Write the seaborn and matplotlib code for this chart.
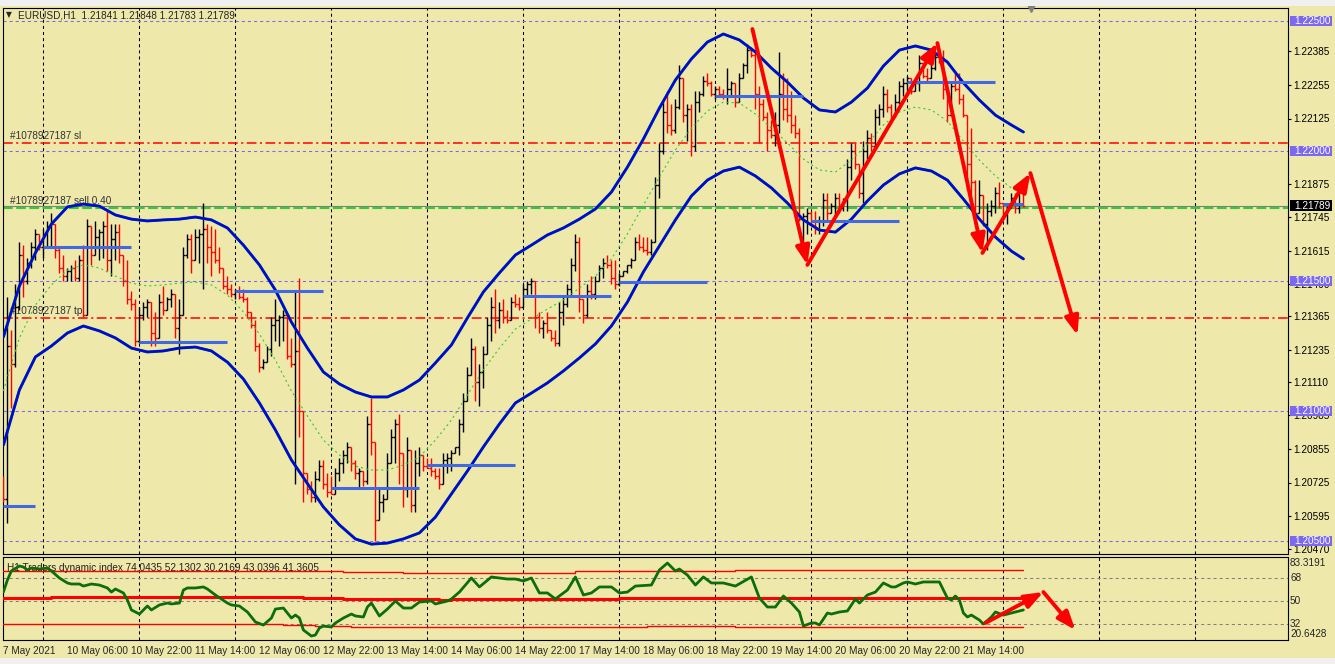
import numpy as np
import pandas as pd
import matplotlib
matplotlib.use("Agg")
import matplotlib.pyplot as plt
from matplotlib.patches import Rectangle
import seaborn as sns

sns.set_style("white")
plt.rcParams["font.family"] = ["Liberation Sans", "DejaVu Sans"]
plt.rcParams["lines.scale_dashes"] = False

# ---- EURUSD H1 bars (high / low / close), oldest first ----
first_open = 1.2074
bar_high = [
    1.2075, 1.2144, 1.2131, 1.2149, 1.2165, 1.2164, 1.2159, 1.2165, 1.2170, 1.2168,
    1.2170, 1.2173, 1.2176, 1.2172, 1.2163, 1.2160, 1.2155, 1.2156, 1.2158, 1.2160,
    1.2164, 1.2174, 1.2171, 1.2173, 1.2170, 1.2173, 1.2177, 1.2172, 1.2172, 1.2172,
    1.2160, 1.2158, 1.2146, 1.2143, 1.2140, 1.2142, 1.2143, 1.2142, 1.2138, 1.2145,
    1.2148, 1.2144, 1.2147, 1.2145, 1.2143, 1.2163, 1.2168, 1.2168, 1.2170, 1.2170,
    1.2180, 1.2172, 1.2171, 1.2170, 1.2163, 1.2155, 1.2152, 1.2149, 1.2147, 1.2148,
    1.2147, 1.2144, 1.2138, 1.2135, 1.2126, 1.2120, 1.2125, 1.2136, 1.2143, 1.2137,
    1.2139, 1.2137, 1.2128, 1.2146, 1.2151, 1.2100, 1.2076, 1.2073, 1.2077, 1.2081,
    1.2081, 1.2076, 1.2075, 1.2078, 1.2082, 1.2085, 1.2088, 1.2086, 1.2081, 1.2078,
    1.2077, 1.2098, 1.2105, 1.2088, 1.2070, 1.2068, 1.2084, 1.2093, 1.2097, 1.2099,
    1.2084, 1.2090, 1.2085, 1.2085, 1.2086, 1.2083, 1.2082, 1.2082, 1.2078, 1.2078,
    1.2084, 1.2084, 1.2085, 1.2086, 1.2097, 1.2107, 1.2117, 1.2128, 1.2125, 1.2118,
    1.2125, 1.2136, 1.2144, 1.2147, 1.2142, 1.2143, 1.2139, 1.2144, 1.2145, 1.2144,
    1.2149, 1.2150, 1.2151, 1.2150, 1.2138, 1.2135, 1.2138, 1.2131, 1.2131, 1.2142,
    1.2144, 1.2149, 1.2159, 1.2168, 1.2167, 1.2143, 1.2149, 1.2152, 1.2152, 1.2156,
    1.2159, 1.2160, 1.2158, 1.2158, 1.2153, 1.2154, 1.2156, 1.2159, 1.2167, 1.2168,
    1.2167, 1.2167, 1.2166, 1.2190, 1.2203, 1.2219, 1.2223, 1.2218, 1.2220, 1.2233,
    1.2228, 1.2218, 1.2218, 1.2223, 1.2223, 1.2229, 1.2230, 1.2227, 1.2225, 1.2225,
    1.2224, 1.2232, 1.2227, 1.2226, 1.2230, 1.2234, 1.2241, 1.2240, 1.2239, 1.2225,
    1.2220, 1.2215, 1.2212, 1.2215, 1.2238, 1.2230, 1.2228, 1.2223, 1.2214, 1.2209,
    1.2176, 1.2178, 1.2177, 1.2177, 1.2175, 1.2184, 1.2184, 1.2180, 1.2184, 1.2184,
    1.2182, 1.2197, 1.2203, 1.2203, 1.2195, 1.2204, 1.2208, 1.2207, 1.2216, 1.2218,
    1.2225, 1.2224, 1.2218, 1.2222, 1.2227, 1.2228, 1.2229, 1.2228, 1.2227, 1.2237,
    1.2234, 1.2232, 1.2234, 1.2238, 1.2239, 1.2239, 1.2224, 1.2226, 1.2230, 1.2230,
    1.2222, 1.2214, 1.2209, 1.2189, 1.2189, 1.2183, 1.2180, 1.2181, 1.2186, 1.2188,
    1.2180, 1.2179, 1.2184, 1.2184, 1.2184, 1.21848,
]
bar_low = [
    1.2065, 1.2057, 1.2101, 1.2117, 1.2139, 1.2144, 1.2149, 1.2155, 1.2158, 1.2162,
    1.2159, 1.2163, 1.2163, 1.2159, 1.2153, 1.2150, 1.2150, 1.2150, 1.2150, 1.2150,
    1.2136, 1.2137, 1.2156, 1.2160, 1.2158, 1.2159, 1.2154, 1.2152, 1.2158, 1.2157,
    1.2148, 1.2141, 1.2139, 1.2125, 1.2126, 1.2135, 1.2136, 1.2125, 1.2125, 1.2128,
    1.2137, 1.2139, 1.2140, 1.2128, 1.2122, 1.2137, 1.2159, 1.2153, 1.2158, 1.2157,
    1.2147, 1.2157, 1.2152, 1.2157, 1.2153, 1.2147, 1.2145, 1.2144, 1.2143, 1.2143,
    1.2142, 1.2136, 1.2132, 1.2123, 1.2115, 1.2116, 1.2119, 1.2121, 1.2127, 1.2125,
    1.2127, 1.2120, 1.2117, 1.2072, 1.2090, 1.2065, 1.2068, 1.2065, 1.2065, 1.2073,
    1.2070, 1.2067, 1.2068, 1.2068, 1.2073, 1.2076, 1.2080, 1.2077, 1.2074, 1.2070,
    1.2071, 1.2072, 1.2083, 1.2050, 1.2058, 1.2061, 1.2066, 1.2080, 1.2080, 1.2072,
    1.2063, 1.2067, 1.2061, 1.2061, 1.2075, 1.2077, 1.2078, 1.2075, 1.2074, 1.2070,
    1.2072, 1.2076, 1.2077, 1.2084, 1.2083, 1.2092, 1.2104, 1.2114, 1.2104, 1.2102,
    1.2109, 1.2122, 1.2127, 1.2130, 1.2132, 1.2134, 1.2134, 1.2135, 1.2140, 1.2139,
    1.2140, 1.2144, 1.2145, 1.2132, 1.2130, 1.2128, 1.2130, 1.2127, 1.2125, 1.2125,
    1.2133, 1.2140, 1.2144, 1.2154, 1.2138, 1.2134, 1.2136, 1.2143, 1.2143, 1.2150,
    1.2151, 1.2155, 1.2149, 1.2147, 1.2148, 1.2152, 1.2153, 1.2155, 1.2158, 1.2162,
    1.2161, 1.2160, 1.2160, 1.2165, 1.2182, 1.2199, 1.2207, 1.2206, 1.2207, 1.2216,
    1.2211, 1.2204, 1.2198, 1.2200, 1.2215, 1.2221, 1.2225, 1.2221, 1.2220, 1.2221,
    1.2220, 1.2218, 1.2221, 1.2217, 1.2219, 1.2228, 1.2230, 1.2236, 1.2216, 1.2203,
    1.2212, 1.2200, 1.2205, 1.2202, 1.2207, 1.2212, 1.2211, 1.2207, 1.2205, 1.2173,
    1.2165, 1.2168, 1.2172, 1.2168, 1.2168, 1.2171, 1.2173, 1.2176, 1.2175, 1.2176,
    1.2177, 1.2177, 1.2189, 1.2193, 1.2182, 1.2180, 1.2197, 1.2200, 1.2202, 1.2210,
    1.2213, 1.2215, 1.2211, 1.2213, 1.2218, 1.2221, 1.2223, 1.2222, 1.2223, 1.2223,
    1.2228, 1.2227, 1.2228, 1.2231, 1.2234, 1.2220, 1.2211, 1.2214, 1.2223, 1.2218,
    1.2213, 1.2185, 1.2180, 1.2173, 1.2176, 1.2171, 1.2162, 1.2175, 1.2176, 1.2178,
    1.2175, 1.2172, 1.2178, 1.2176, 1.2176, 1.21783,
]
bar_close = [
    1.2066, 1.2125, 1.2118, 1.2140, 1.2160, 1.2150, 1.2157, 1.2163, 1.2168, 1.2163,
    1.2168, 1.2171, 1.2172, 1.2162, 1.2155, 1.2152, 1.2154, 1.2155, 1.2151, 1.2158,
    1.2137, 1.2171, 1.2160, 1.2167, 1.2169, 1.2171, 1.2158, 1.2166, 1.2169, 1.2160,
    1.2150, 1.2143, 1.2141, 1.2127, 1.2137, 1.2140, 1.2142, 1.2130, 1.2128, 1.2142,
    1.2139, 1.2143, 1.2145, 1.2132, 1.2137, 1.2160, 1.2166, 1.2158, 1.2167, 1.2168,
    1.2170, 1.2163, 1.2161, 1.2158, 1.2155, 1.2148, 1.2147, 1.2145, 1.2146, 1.2144,
    1.2143, 1.2138, 1.2133, 1.2125, 1.2117, 1.2119, 1.2124, 1.2133, 1.2135, 1.2136,
    1.2137, 1.2121, 1.2118, 1.2123, 1.2100, 1.2076, 1.2070, 1.2067, 1.2074, 1.2079,
    1.2072, 1.2069, 1.2068, 1.2076, 1.2080, 1.2083, 1.2086, 1.2080, 1.2076, 1.2077,
    1.2073, 1.2095, 1.2088, 1.2058, 1.2065, 1.2066, 1.2080, 1.2090, 1.2095, 1.2084,
    1.2070, 1.2085, 1.2064, 1.2080, 1.2083, 1.2079, 1.2078, 1.2077, 1.2075, 1.2072,
    1.2081, 1.2082, 1.2084, 1.2086, 1.2095, 1.2104, 1.2114, 1.2124, 1.2111, 1.2115,
    1.2122, 1.2133, 1.2140, 1.2135, 1.2139, 1.2136, 1.2135, 1.2142, 1.2141, 1.2140,
    1.2147, 1.2149, 1.2150, 1.2136, 1.2132, 1.2134, 1.2131, 1.2128, 1.2126, 1.2138,
    1.2141, 1.2147, 1.2156, 1.2165, 1.2143, 1.2137, 1.2146, 1.2145, 1.2150, 1.2155,
    1.2157, 1.2156, 1.2151, 1.2149, 1.2152, 1.2154, 1.2156, 1.2158, 1.2165, 1.2163,
    1.2162, 1.2161, 1.2165, 1.2187, 1.2200, 1.2215, 1.2210, 1.2208, 1.2217, 1.2228,
    1.2214, 1.2216, 1.2202, 1.2219, 1.2222, 1.2227, 1.2226, 1.2222, 1.2224, 1.2222,
    1.2221, 1.2224, 1.2226, 1.2219, 1.2228, 1.2233, 1.2239, 1.2237, 1.2222, 1.2218,
    1.2213, 1.2208, 1.2206, 1.2210, 1.2222, 1.2216, 1.2214, 1.2210, 1.2207, 1.2174,
    1.2175, 1.2176, 1.2173, 1.2170, 1.2173, 1.2181, 1.2176, 1.2179, 1.2182, 1.2178,
    1.2181, 1.2194, 1.2200, 1.2195, 1.2184, 1.2200, 1.2205, 1.2202, 1.2213, 1.2216,
    1.2222, 1.2217, 1.2213, 1.2219, 1.2225, 1.2226, 1.2228, 1.2223, 1.2226, 1.2234,
    1.2229, 1.2228, 1.2232, 1.2236, 1.2235, 1.2224, 1.2214, 1.2225, 1.2224, 1.2220,
    1.2214, 1.2195, 1.2188, 1.2176, 1.2183, 1.2172, 1.2177, 1.2179, 1.2184, 1.2180,
    1.2176, 1.2178, 1.2182, 1.2178, 1.21841, 1.21789,
]

# ---- envelope bands, read every 4 bars ----
band_idx = list(range(0, 253, 4)) + [255]
band_upper = [
    1.21285, 1.21481, 1.21608, 1.21719, 1.21785, 1.21796, 1.21788, 1.21754, 1.21738, 1.21731,
    1.21735, 1.21738, 1.21746, 1.21735, 1.21704, 1.21638, 1.21562, 1.21465, 1.21342, 1.21242,
    1.21150, 1.21104, 1.21073, 1.21054, 1.21054, 1.21081, 1.21119, 1.21185, 1.21254, 1.21358,
    1.21458, 1.21531, 1.21600, 1.21638, 1.21677, 1.21704, 1.21738, 1.21777, 1.21842, 1.21938,
    1.22046, 1.22165, 1.22273, 1.22354, 1.22419, 1.22450, 1.22427, 1.22381, 1.22319, 1.22265,
    1.22204, 1.22158, 1.22150, 1.22188, 1.22242, 1.22327, 1.22388, 1.22404, 1.22388, 1.22342,
    1.22262, 1.22196, 1.22138, 1.22100, 1.22073,
]
band_lower = [
    1.20869, 1.21081, 1.21208, 1.21250, 1.21300, 1.21327, 1.21308, 1.21281, 1.21242, 1.21227,
    1.21231, 1.21242, 1.21246, 1.21231, 1.21188, 1.21123, 1.21031, 1.20927, 1.20812, 1.20721,
    1.20631, 1.20562, 1.20508, 1.20488, 1.20492, 1.20508, 1.20531, 1.20592, 1.20681, 1.20769,
    1.20862, 1.20950, 1.21031, 1.21069, 1.21108, 1.21154, 1.21204, 1.21258, 1.21327, 1.21419,
    1.21535, 1.21635, 1.21735, 1.21827, 1.21888, 1.21923, 1.21938, 1.21904, 1.21858, 1.21800,
    1.21735, 1.21696, 1.21688, 1.21738, 1.21808, 1.21869, 1.21912, 1.21935, 1.21923, 1.21888,
    1.21815, 1.21738, 1.21669, 1.21615, 1.21585,
]
band_mid = [
    1.21077, 1.21281, 1.21408, 1.21485, 1.21542, 1.21562, 1.21550, 1.21519, 1.21492, 1.21481,
    1.21485, 1.21492, 1.21496, 1.21485, 1.21446, 1.21381, 1.21296, 1.21196, 1.21077, 1.20981,
    1.20888, 1.20831, 1.20788, 1.20773, 1.20773, 1.20792, 1.20823, 1.20888, 1.20965, 1.21062,
    1.21158, 1.21242, 1.21315, 1.21354, 1.21392, 1.21427, 1.21473, 1.21519, 1.21585, 1.21681,
    1.21792, 1.21900, 1.22004, 1.22088, 1.22154, 1.22188, 1.22185, 1.22142, 1.22088, 1.22031,
    1.21969, 1.21927, 1.21919, 1.21965, 1.22027, 1.22100, 1.22150, 1.22169, 1.22158, 1.22115,
    1.22038, 1.21965, 1.21904, 1.21858, 1.21831,
]

# ---- daily pivot segments ----
pivot_start = [0, 10, 34, 58, 82, 106, 130, 154, 178, 202, 226, 250]
pivot_end = [8, 32, 56, 80, 104, 128, 152, 176, 200, 224, 248, 255]
pivot_level = [1.20635, 1.21631, 1.21265, 1.21462, 1.20704, 1.20792,
               1.21442, 1.21496, 1.22212, 1.21731, 1.22265, 1.21796]

# ---- order / price lines ----
round_levels = [1.22500, 1.22000, 1.21500, 1.21000, 1.20500]
order_sl = 1.22031
order_tp = 1.21358
order_entry = 1.21781
bid = 1.21789
price_ticks = [1.22385, 1.22255, 1.22125, 1.21875, 1.21745, 1.21615, 1.21490,
               1.21365, 1.21235, 1.21110, 1.20985, 1.20855, 1.20725, 1.20595, 1.20470]

# ---- hand drawn zigzag (bar index, price) ----
zig_idx = [187.25, 201, 233.5, 244.75, 256.75, 268.5]
zig_price = [1.22469, 1.21562, 1.22415, 1.21608, 1.21915, 1.21292]

# ---- Traders Dynamic Index ----
tdi_idx = [0, 1, 2, 4, 5, 6, 7, 9, 11, 12, 14, 16, 17, 19, 20, 22, 24, 26, 27, 28,
           30, 31, 32, 34, 35, 36, 37, 39, 41, 42, 44, 45, 46, 48, 50, 51, 53, 56, 57, 59,
           61, 63, 65, 67, 68, 70, 71, 72, 73, 74, 75, 77, 78, 79, 80, 82, 83, 85, 87, 88,
           90, 91, 92, 94, 96, 98, 100, 102, 104, 107, 108, 111, 112, 114, 117, 119, 122, 126, 128, 130,
           132, 134, 136, 138, 141, 143, 145, 147, 149, 152, 154, 156, 158, 162, 164, 166, 168, 169, 171, 173,
           175, 177, 180, 183, 187, 189, 191, 193, 195, 197, 199, 200, 202, 203, 204, 206, 207, 209, 211, 213,
           214, 216, 218, 220, 222, 223, 225, 226, 228, 230, 234, 235, 236, 237, 238, 239, 240, 241, 242, 244,
           245, 247, 248, 250, 252, 255]
tdi_rsi = [57.0, 66.4, 73.5, 77.4, 76.6, 74.3, 75.8, 75.0, 75.8, 73.5, 68.0, 64.1, 63.3, 63.3, 61.7, 63.3, 62.5, 60.2, 57.0, 59.4,
           56.3, 50.8, 43.0, 39.8, 43.0, 46.1, 43.0, 46.9, 48.4, 47.7, 48.4, 58.6, 60.2, 60.2, 61.0, 59.4, 54.7, 48.4, 46.9, 46.1,
           41.4, 33.6, 31.2, 36.7, 43.7, 44.5, 40.6, 36.7, 39.0, 36.7, 27.3, 22.6, 23.4, 28.9, 30.4, 29.7, 32.8, 36.7, 39.8, 38.3,
           37.5, 45.3, 48.4, 38.3, 43.7, 50.0, 44.5, 44.5, 49.2, 50.0, 47.7, 50.0, 51.6, 57.0, 68.0, 61.0, 68.8, 67.2, 67.2, 65.7,
           68.0, 56.3, 56.3, 51.6, 58.6, 68.8, 54.7, 56.3, 61.0, 61.0, 56.3, 57.0, 61.7, 62.5, 74.3, 79.7, 73.5, 75.0, 70.3, 62.5,
           68.8, 64.1, 64.1, 61.7, 68.8, 52.3, 45.3, 45.3, 53.9, 48.4, 41.4, 30.4, 32.8, 32.8, 31.2, 40.6, 39.8, 41.4, 42.2, 51.6,
           48.4, 54.7, 57.0, 64.1, 61.0, 61.0, 64.1, 64.9, 63.3, 64.9, 64.9, 58.6, 52.3, 50.8, 53.9, 50.8, 40.6, 37.5, 39.0, 35.1,
           32.0, 37.5, 41.4, 39.0, 40.6, 43.0]
tdi_up_idx = [0, 85, 100, 143, 183, 255]
tdi_up = [73.7, 72.9, 72.1, 73.7, 74.3, 74.3]
tdi_mid_idx = [0, 12, 75, 85, 109, 112, 154, 209, 255]
tdi_mid = [52.1, 53.4, 52.6, 51.6, 50.8, 51.6, 52.1, 52.6, 52.6]
tdi_low_idx = [0, 70, 78, 87, 161, 183, 255]
tdi_low = [32.0, 31.2, 30.4, 29.7, 30.4, 30.0, 30.0]
tdi_levels = [68, 50, 32]
tdi_zig_idx = [245.5, 260, 268]
tdi_zig_val = [32.8, 57.0, 27.3]

# ---- time axis ----
day_starts = list(range(10, 300, 24))
time_idx = list(range(0, 241, 16))
time_labels = ["7 May 2021", "10 May 06:00", "10 May 22:00", "11 May 14:00", "12 May 06:00",
               "12 May 22:00", "13 May 14:00", "14 May 06:00", "14 May 22:00", "17 May 14:00",
               "18 May 06:00", "18 May 22:00", "19 May 14:00", "20 May 06:00", "20 May 22:00",
               "21 May 14:00"]

BG = "#EEE8AA"
PURPLE = "#7B68EE"
W, H = 1335, 664
FS = 7.2

bars = pd.DataFrame({"h": bar_high, "l": bar_low, "c": bar_close})
bars["i"] = np.arange(len(bars))
bars["o"] = [first_open] + bar_close[:-1]
bars["col"] = np.where(bars["c"] >= bars["o"], "black", "red")

fig = plt.figure(figsize=(W / 100, H / 100), dpi=100, facecolor=BG)
ax = fig.add_axes([3 / W, 1 - 554 / H, 1285 / W, 546 / H], facecolor=BG)
axi = fig.add_axes([3 / W, 1 - 640 / H, 1285 / W, 83 / H], facecolor=BG)

x0 = -0.1
for a in (ax, axi):
    a.set_xlim(x0, x0 + 1285 / 4)
    for s in a.spines.values():
        s.set_color("black")
        s.set_linewidth(0.8)
    for d in day_starts:
        a.axvline(d, color="black", lw=0.75, ls=(0, (2.2, 2.2)), zorder=1)

ax.set_ylim(1.2045, 1.2255)

# round number levels
for lvl in round_levels:
    ax.axhline(lvl, color=PURPLE, lw=0.75, ls=(0, (2.2, 2.2)), zorder=1)

# order lines
ax.axhline(order_sl, color="red", lw=1.1, ls=(0, (7, 2.5, 1.5, 2.5)), zorder=2)
ax.axhline(order_tp, color="red", lw=1.1, ls=(0, (7, 2.5, 1.5, 2.5)), zorder=2)
ax.axhline(bid, color="#808080", lw=0.8, zorder=2)
ax.axhline(order_entry, color="#32CD32", lw=1.5, ls=(0, (7, 2.5)), zorder=2)
ytr = ax.get_yaxis_transform()
lab_kw = dict(transform=ytr, fontsize=FS, color="#333333", va="bottom", ha="left")
ax.text(0.0055, order_sl + 0.00008, "#1078927187 sl", **lab_kw)
ax.text(0.0055, order_entry + 0.00008, "#1078927187 sell 0.40", **lab_kw)
ax.text(0.0055, order_tp + 0.00008, "#1078927187 tp", **lab_kw)

# OHLC bars
ax.vlines(bars["i"], bars["l"], bars["h"], colors=bars["col"], lw=1.0, zorder=3)
ax.hlines(bars["o"], bars["i"] - 0.5, bars["i"], colors=bars["col"], lw=1.0, zorder=3)
ax.hlines(bars["c"], bars["i"], bars["i"] + 0.5, colors=bars["col"], lw=1.0, zorder=3)

# envelope
sns.lineplot(x=band_idx, y=band_mid, ax=ax, color="#32CD32", lw=0.8,
             ls=(0, (1.5, 2.2)), estimator=None, sort=False, zorder=4)
for band in (band_upper, band_lower):
    sns.lineplot(x=band_idx, y=band, ax=ax, color="#006400", lw=2.1,
                 estimator=None, sort=False, zorder=4)
    sns.lineplot(x=band_idx, y=band, ax=ax, color="#0000FF", lw=1.6,
                 estimator=None, sort=False, zorder=4)

# pivots
ax.hlines(pivot_level, pivot_start, pivot_end, color="#4169E1", lw=2.2, zorder=5)

# zigzag arrows
arrow_kw = dict(arrowstyle="-|>,head_length=1.1,head_width=0.42", color="red",
                lw=2.8, shrinkA=0, shrinkB=0, mutation_scale=10)
for k in range(len(zig_idx) - 1):
    ax.annotate("", xy=(zig_idx[k + 1], zig_price[k + 1]),
                xytext=(zig_idx[k], zig_price[k]), arrowprops=arrow_kw, zorder=6)

# right price scale
ax.yaxis.tick_right()
ax.set_yticks(price_ticks)
ax.set_yticklabels([f"{v:.5f}" for v in price_ticks])
ax.tick_params(axis="y", length=2.5, width=0.8, pad=1.5, labelsize=FS, colors="black")
ax.set_xticks([])
ax.set_xlabel("")
ax.set_ylabel("")
for lvl in round_levels:
    ax.add_patch(Rectangle((1.0016, lvl - 0.00021), 0.0327, 0.00042, transform=ytr,
                           fc=PURPLE, ec="none", clip_on=False, zorder=7))
    ax.text(1.0045, lvl, f"{lvl:.5f}", transform=ytr, color="white", fontsize=FS,
            va="center", ha="left", zorder=8, clip_on=False)
ax.add_patch(Rectangle((1.0016, bid - 0.00021), 0.0327, 0.00042, transform=ytr,
                       fc="black", ec="none", clip_on=False, zorder=7))
ax.text(1.0045, bid, f"{bid:.5f}", transform=ytr, color="white", fontsize=FS,
        va="center", ha="left", zorder=8, clip_on=False)

# indicator panel
axi.set_ylim(19.49, 84.43)
for lv in tdi_levels:
    axi.axhline(lv, color="#808080", lw=0.75, ls=(0, (2.2, 2.2)), zorder=1)
sns.lineplot(x=tdi_up_idx, y=tdi_up, ax=axi, color="red", lw=1.0,
             drawstyle="steps-post", estimator=None, sort=False, zorder=3)
sns.lineplot(x=tdi_low_idx, y=tdi_low, ax=axi, color="red", lw=1.0,
             drawstyle="steps-post", estimator=None, sort=False, zorder=3)
sns.lineplot(x=tdi_mid_idx, y=tdi_mid, ax=axi, color="red", lw=2.2,
             drawstyle="steps-post", estimator=None, sort=False, zorder=3)
sns.lineplot(x=tdi_idx, y=tdi_rsi, ax=axi, color="#0B6E0B", lw=2.0,
             estimator=None, sort=False, zorder=4)
for k in range(len(tdi_zig_idx) - 1):
    axi.annotate("", xy=(tdi_zig_idx[k + 1], tdi_zig_val[k + 1]),
                 xytext=(tdi_zig_idx[k], tdi_zig_val[k]), arrowprops=arrow_kw, zorder=6)

itr = axi.get_yaxis_transform()
for lv in tdi_levels:
    axi.text(1.0016, lv, str(lv), transform=itr, fontsize=FS, va="center", ha="left")
axi.text(1.0016, axi.get_ylim()[1] - 1.1, "83.3191", transform=itr, fontsize=FS, va="top", ha="left")
axi.text(1.0016, axi.get_ylim()[0] + 1.1, "20.6428", transform=itr, fontsize=FS, va="bottom", ha="left")
axi.set_yticks([])
axi.set_ylabel("")
axi.set_xticks(time_idx)
axi.set_xticklabels(time_labels, ha="left", fontsize=FS)
axi.tick_params(axis="x", length=3, width=0.8, pad=1.5, direction="out")
axi.text(0.0035, 0.93, "H1 Traders dynamic index 74.0435 52.1302 30.2169 43.0396 41.3605",
         transform=axi.transAxes, fontsize=FS, va="top", ha="left", color="#222222")

# header and window chrome
fig.text(6 / W, 1 - 15 / H, "\u25BC", fontsize=5.5, va="center", ha="left",
         family=["DejaVu Sans"])
fig.text(18 / W, 1 - 15 / H, "EURUSD,H1  1.21841 1.21848 1.21783 1.21789",
         fontsize=FS, va="center", ha="left")
fig.patches.append(Rectangle((0, 1 - 6 / H), 1, 6 / H, transform=fig.transFigure,
                             fc="#F0F0F0", ec="none"))
fig.patches.append(Rectangle((0, 0), 1, 6 / H, transform=fig.transFigure,
                             fc="#F0F0F0", ec="none"))
ax.plot([len(bar_close) + 1], [1.0], transform=ax.get_xaxis_transform(), marker="v",
        ms=6, color="#808080", clip_on=False, zorder=9)

fig.savefig("out.png", dpi=100, facecolor=BG)
